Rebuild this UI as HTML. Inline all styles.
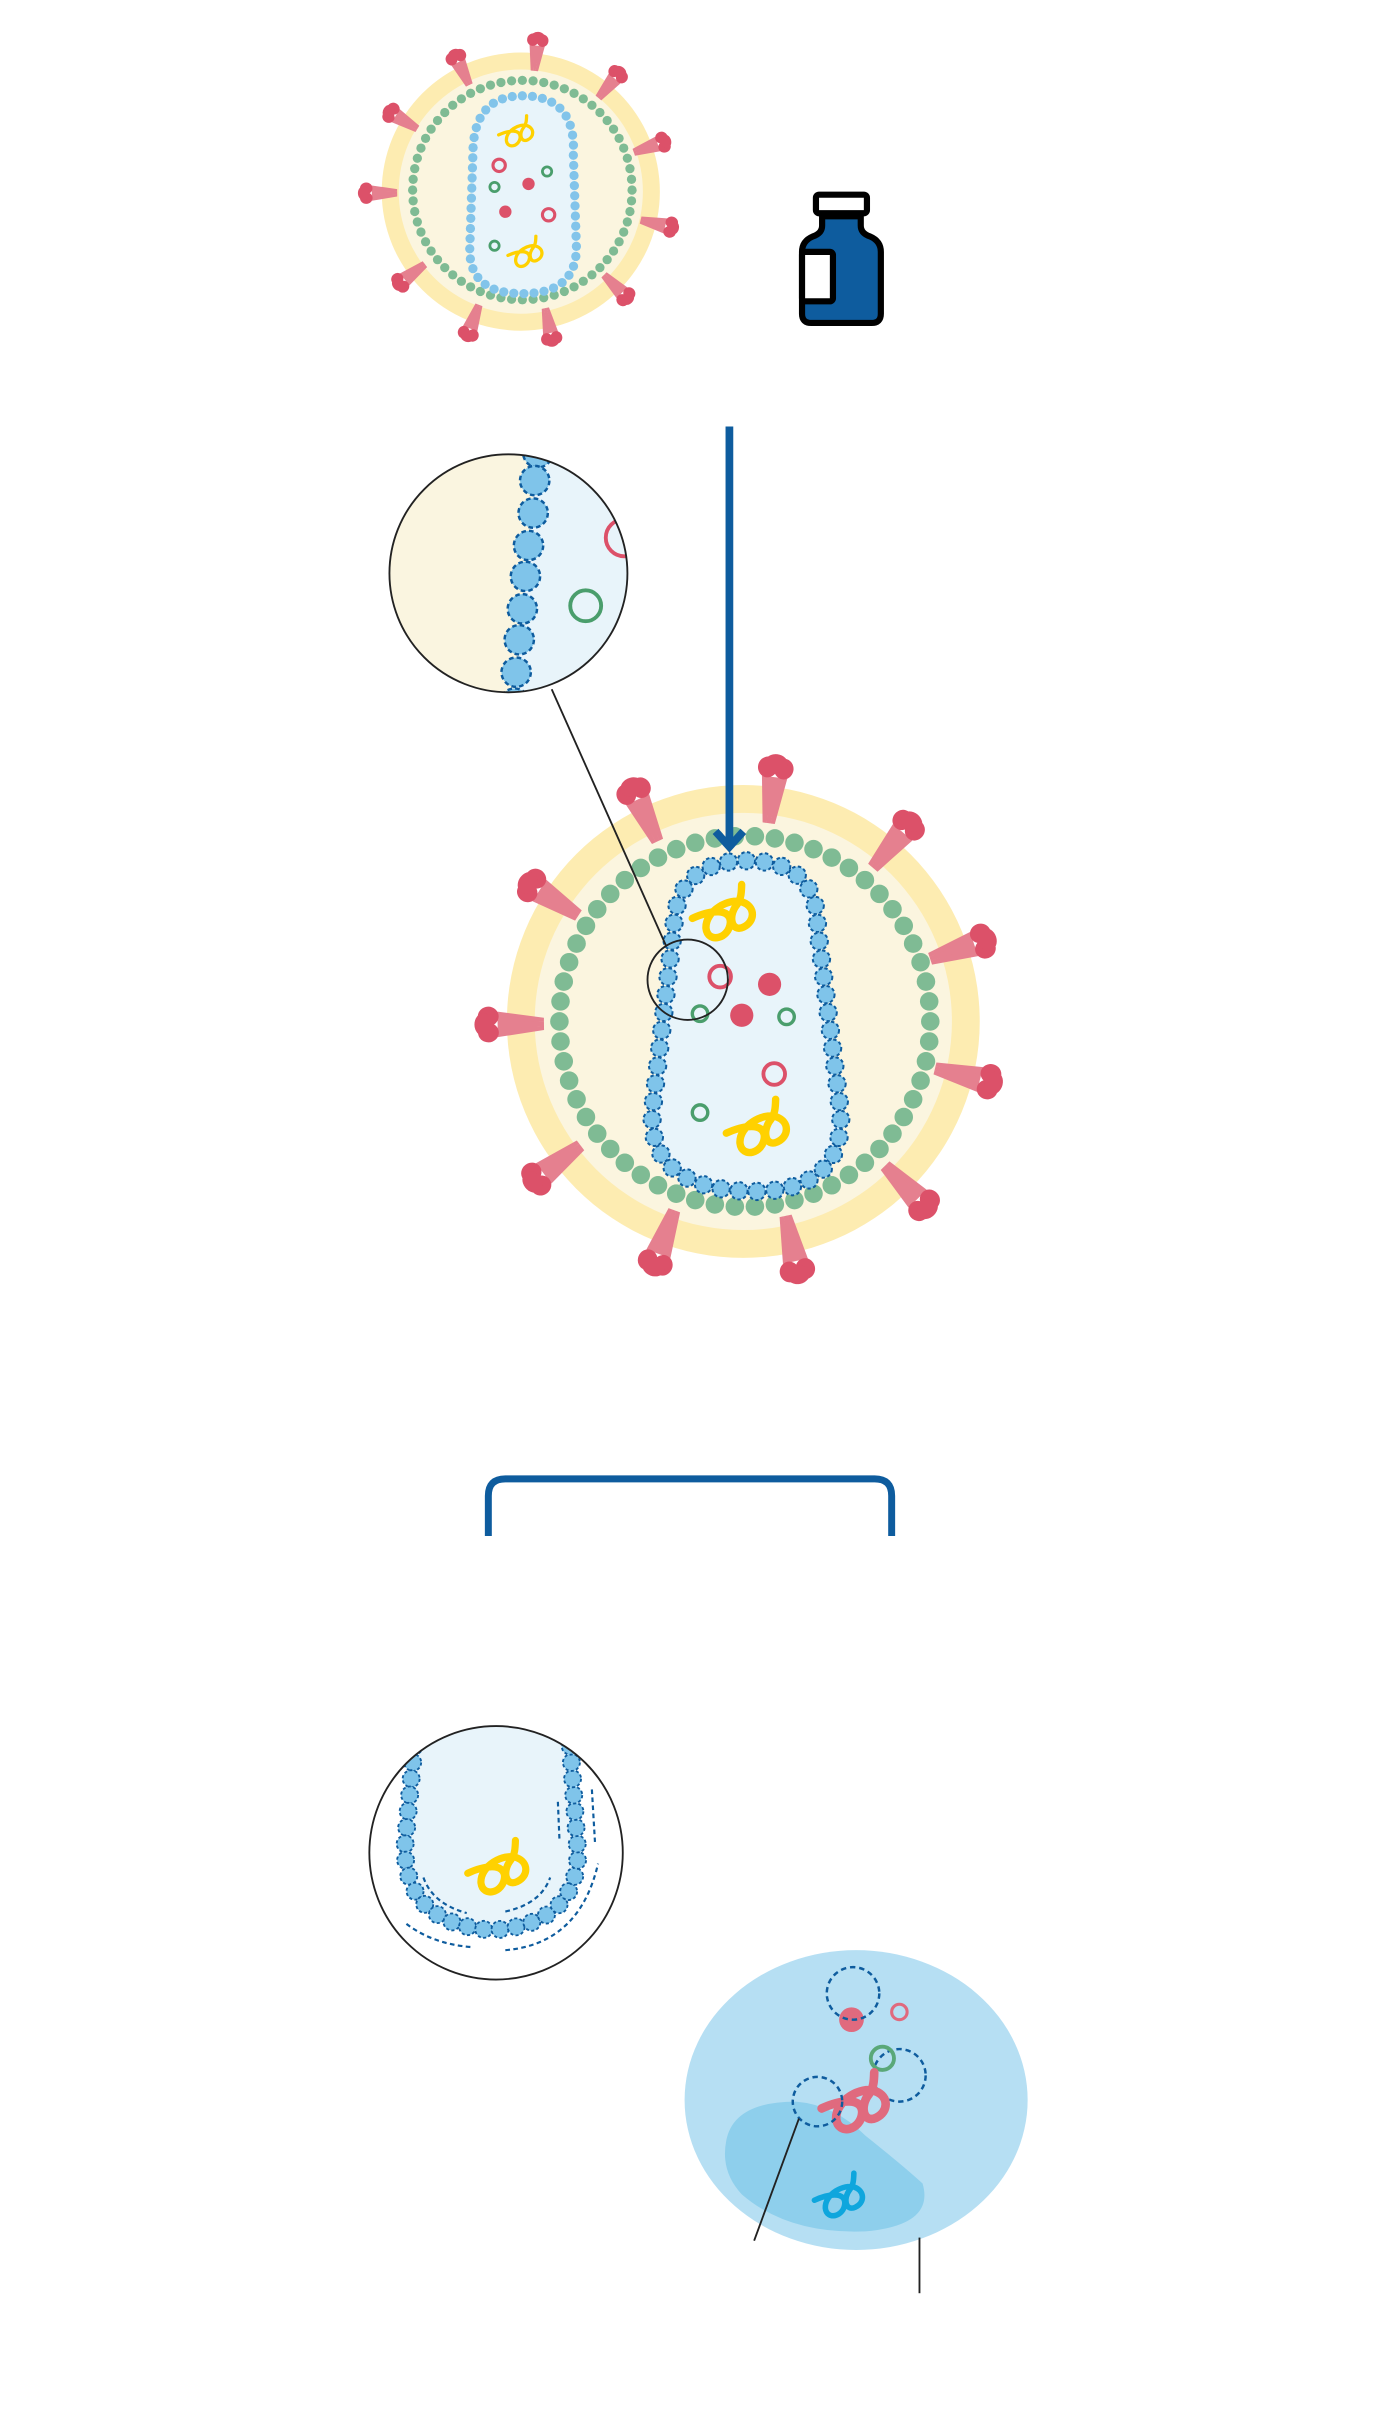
<!DOCTYPE html>
<html><head><meta charset="utf-8"><style>html,body{margin:0;padding:0;background:#fff}svg{display:block}</style></head>
<body>
<svg id="s" xmlns="http://www.w3.org/2000/svg" width="1380" height="2436" viewBox="0 0 893 1576.4">
<defs>
<clipPath id="m1"><circle cx="329" cy="371" r="77"/></clipPath>
<clipPath id="m2"><circle cx="321" cy="1199" r="82"/></clipPath>
</defs>
<rect width="893" height="1577" fill="#fff"/>
<g id="g"></g>
</svg>
<script>
var NS="http://www.w3.org/2000/svg",G=document.getElementById('g');
function el(t,a,p){var e=document.createElementNS(NS,t);for(var k in a)e.setAttribute(k,a[k]);(p||G).appendChild(e);return e;}
function spike(cx,cy,hx,hy,s,len){var dx=hx-cx,dy=hy-cy,d=Math.sqrt(dx*dx+dy*dy),a=Math.atan2(dy,dx)*180/Math.PI;
 var g=el('g',{transform:'translate('+cx+','+cy+') rotate('+a+')'});
 var b=d-len,e=d-4*s;
 [-3.5,0,3.5].forEach(function(o){
  el('polygon',{points:b+','+(o*0.5*s-0.9*s)+' '+e+','+(o*s-2*s)+' '+e+','+(o*s+2*s)+' '+b+','+(o*0.5*s+0.9*s),fill:'#e5808f'},g);});
 el('ellipse',{cx:d,cy:-3.5*s,rx:4.5*s,ry:4.2*s,fill:'#dc5169'},g);
 el('ellipse',{cx:d,cy:3.5*s,rx:4.5*s,ry:4.2*s,fill:'#dc5169'},g);
 el('ellipse',{cx:d+2*s,cy:0,rx:4*s,ry:5*s,fill:'#dc5169'},g);}
function ring(cx,cy,r,n,dr,f){for(var i=0;i<n;i++){var t=i/n*2*Math.PI;el('circle',{cx:cx+r*Math.cos(t),cy:cy+r*Math.sin(t),r:dr,fill:f});}}
function capsuleP(d,step,dr,dashed,fill){
 el('path',{d:d,fill:'#e8f4fa'});
 var p=el('path',{d:d,fill:'none'});
 var L=p.getTotalLength(),n=Math.round(L/step);
 for(var i=0;i<n;i++){var q=p.getPointAtLength(i*L/n);
  var a={cx:q.x,cy:q.y,r:dr,fill:fill};
  if(dashed){a.stroke='#0e5c9e';a['stroke-width']=1.3;a['stroke-dasharray']='2.2 1.6';}
  el('circle',a);}}
function squig(x,y,s,c,rot,w){el('path',{d:'M -12 6 C -6 0 2 -4 4 2 C 6 9 -2 14 -5 8 C -8 1 0 -8 6 -8 C 12 -8 14 -2 10 2 C 6 6 2 0 4 -6 C 5 -9 4 -12 3 -15',
 fill:'none',stroke:c,'stroke-width':w||3,'stroke-linecap':'round','stroke-linejoin':'round',transform:'translate('+x+','+y+') rotate('+(rot||0)+') scale('+s+')'});}
function circ(x,y,r,f,st,sw,da){var a={cx:x,cy:y,r:r,fill:f||'none'};if(st){a.stroke=st;a['stroke-width']=sw||2;}if(da)a['stroke-dasharray']=da;return el('circle',a);}

/* small virus */
circ(337,124,90,'#fdecb1');circ(337,124,79,'#fbf5df');
var sp=[[348,26],[400,48],[429,92],[434,147],[405,192],[357,219],[303,216],[259,183],[237,125],[253,73],[295,37]];
sp.forEach(function(p){spike(337,124,p[0],p[1],0.9,20);});
ring(338,123,71,64,3,'#7fbb94');
capsuleP('M338 62 Q373 62 371 100 L373 160 Q373 190 338 190 Q303 190 304 160 L306 100 Q306 62 338 62 Z',6.6,3,false,'#82c4ea');
circ(323,107,4,'none','#dc5169',2);circ(355,139,4,'none','#dc5169',2);
circ(354,111,3,'none','#4a9e6c',1.8);circ(320,121,3,'none','#4a9e6c',1.8);circ(320,159,3,'none','#4a9e6c',1.8);
circ(342,119,4,'#dc5169');circ(327,137,4,'#dc5169');
squig(334,86,0.85,'#ffd100',20,2.5);squig(340,164,0.85,'#ffd100',20,2.5);

/* vial */
el('rect',{x:528,y:126,width:33,height:12,rx:2,fill:'#fff',stroke:'#000','stroke-width':4});
el('path',{d:'M532 140 L557 140 L557 146 Q557 151 563 153 Q570 156 570 163 L570 203 Q570 209 564 209 L525 209 Q519 209 519 203 L519 163 Q519 156 526 153 Q532 151 532 146 Z',fill:'#0e5c9e',stroke:'#000','stroke-width':4,'stroke-linejoin':'round'});
el('rect',{x:519,y:163,width:20,height:32,rx:2,fill:'#fff',stroke:'#000','stroke-width':4});

/* big virus */
circ(481,661,153,'#fdecb1');circ(481,661,135,'#fbf5df');
var bp=[[502,497],[410,512],[344,573],[316,663],[347,763],[424,817],[516,822],[598,780],[640,700],[636,609],[588,534]];
bp.forEach(function(p){spike(481,661,p[0],p[1],1.5,36);});
ring(482,661,120,58,6,'#7fbb94');
capsuleP('M483 557 Q529 557 529 600 L544 720 Q546 770 490 771 Q420 771 422 720 L436 600 Q438 557 483 557 Z',11.6,5.6,true,'#7fc4ea');
circ(466,632,7,'none','#dc5169',2.5);circ(501,695,7,'none','#dc5169',2.5);
circ(498,637,7.5,'#dc5169');circ(480,657,7.5,'#dc5169');
circ(453,656,5,'none','#4a9e6c',2.2);circ(509,658,5,'none','#4a9e6c',2.2);circ(453,720,5,'none','#4a9e6c',2.2);
squig(468,592,1.5,'#ffd100',20,3.2);squig(490,731,1.5,'#ffd100',20,3.2);
circ(445,634,26,'none','#222',1.2);
el('line',{x1:357,y1:446,x2:431,y2:612,stroke:'#222','stroke-width':1.2});

/* arrow */
el('line',{x1:472,y1:276,x2:472,y2:546,stroke:'#0e5c9e','stroke-width':5});
el('path',{d:'M463 538 L472 548 L481 538',fill:'none',stroke:'#0e5c9e','stroke-width':5,'stroke-linejoin':'miter'});

/* magnifier 1 */
var m1=el('g',{'clip-path':'url(#m1)'});
el('rect',{x:250,y:290,width:160,height:160,fill:'#faf5e0'},m1);
el('path',{d:'M348 290 L410 290 L410 450 L333 450 Z',fill:'#e8f4fa'},m1);
[[348,293],[346,311],[345,332],[342,353],[340,373],[338,394],[336,414],[334,435],[333,455]].forEach(function(p){
 el('circle',{cx:p[0],cy:p[1],r:9.5,fill:'#7fc4ea',stroke:'#0e5c9e','stroke-width':1.6,'stroke-dasharray':'3 2'},m1);});
el('circle',{cx:404,cy:348,r:12,fill:'none',stroke:'#dc5169','stroke-width':2.5},m1);
el('circle',{cx:379,cy:392,r:10,fill:'none',stroke:'#4a9e6c','stroke-width':2.5},m1);
circ(329,371,77,'none','#222',1.2);

/* bracket */
el('path',{d:'M316 994 L316 968 Q316 957 327 957 L566 957 Q577 957 577 968 L577 994',fill:'none',stroke:'#0e5c9e','stroke-width':4.5});

/* magnifier 2 */
var m2=el('g',{'clip-path':'url(#m2)'});
el('path',{d:'M266 1110 L266 1210 Q270 1250 321 1250 Q372 1250 374 1210 L372 1110 Z',fill:'#e8f4fa'},m2);
var up=el('path',{d:'M268 1130 L262 1195 Q262 1245 318 1249 Q372 1246 374 1200 L369 1130',fill:'none'},m2);
var L=up.getTotalLength(),n=Math.round(L/10.5);
for(var i=0;i<=n;i++){var q=up.getPointAtLength(i*L/n);
 el('circle',{cx:q.x,cy:q.y,r:5.5,fill:'#7fc4ea',stroke:'#0e5c9e','stroke-width':1.2,'stroke-dasharray':'2 1.5'},m2);}
var ds={fill:'none',stroke:'#0e5c9e','stroke-width':1.4,'stroke-dasharray':'3 2.2'};
function dp(d){var a={d:d};for(var k in ds)a[k]=ds[k];el('path',a,m2);}
dp('M274 1215 Q280 1232 302 1238');dp('M327 1237 Q350 1232 356 1215');
dp('M361 1166 L362 1190');dp('M383 1158 L385 1192');
dp('M263 1245 Q280 1258 305 1260');dp('M327 1262 Q375 1258 387 1206');
squig(322,1210,1.45,'#ffd100',20,3.2);
circ(321,1199,82,'none','#222',1.2);

/* cell */
el('ellipse',{cx:554,cy:1359,rx:111,ry:97,fill:'#b6dff3'});
el('path',{d:'M470 1385 Q475 1360 515 1360 Q540 1362 560 1382 Q585 1402 597 1413 Q605 1440 560 1444 Q510 1446 480 1420 Q466 1405 470 1385 Z',fill:'#8ecfec'});
squig(543,1422,1.2,'#0ea6dd',20,3);
circ(551,1307,8,'#e06a7e');
circ(552,1290,17,'none','#0e5c9e',1.6,'3.5 2.5');
circ(582,1302,5,'none','#e06a7e',2);
circ(582,1343,17,'none','#0e5c9e',1.6,'3.5 2.5');
circ(571,1332,7.5,'none','#5aa878',2.5);
squig(553,1362,1.6,'#e06a7e',20,3.5);
circ(529,1360,16,'none','#0e5c9e',1.6,'3.5 2.5');
el('line',{x1:517,y1:1371,x2:488,y2:1450,stroke:'#222','stroke-width':1.2});
el('line',{x1:595,y1:1448,x2:595,y2:1484,stroke:'#222','stroke-width':1.2});
</script>
</body></html>
